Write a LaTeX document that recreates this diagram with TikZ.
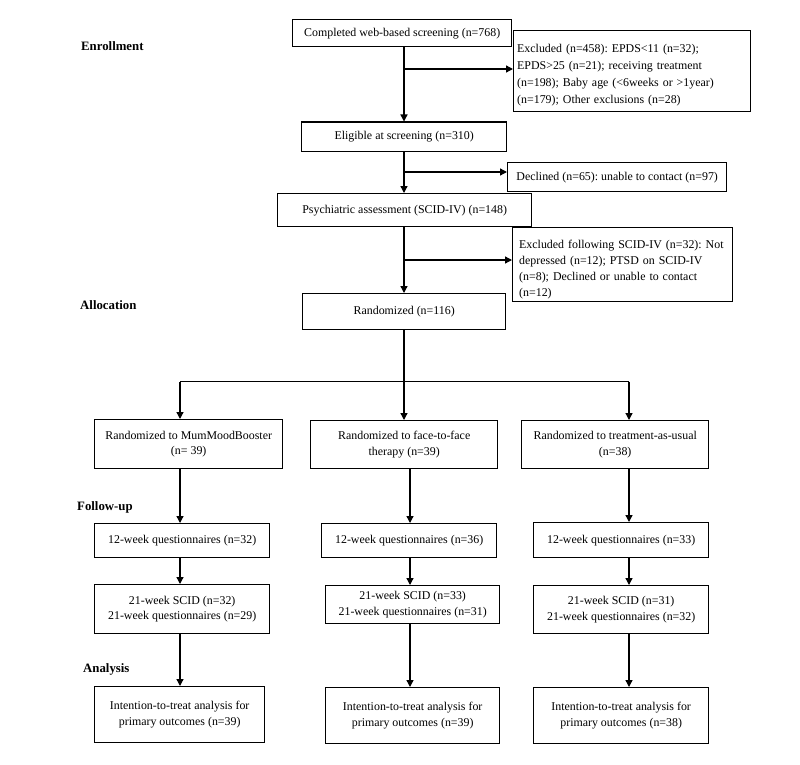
\documentclass[tikz,border=0pt]{standalone}
\usepackage{fontspec}
\setmainfont{Liberation Serif}
\usetikzlibrary{arrows.meta}
\frenchspacing
\begin{document}
\begin{tikzpicture}[x=1pt,y=-1pt,
  box/.style={draw, line width=1.4pt, inner sep=2pt, align=center, anchor=north west,
    font=\fontsize{11.9}{15.5}\selectfont},
  txt/.style={anchor=base west, inner sep=0pt, align=left,
    font=\fontsize{11.9}{16.7}\selectfont},
  phase/.style={anchor=base west, inner sep=0pt, font=\fontsize{12.8}{15}\selectfont\bfseries},
  conn/.style={line width=1.3pt},
  arr/.style={conn, -{Triangle[length=7pt,width=7pt]}}
]
\useasboundingbox (0,0) rectangle (800,765);

% phase labels
\node[phase] (lenr) at (81,51) {Enrollment};
\node[phase] (lall) at (80,309.5) {Allocation};
\node[phase] (lfol) at (77,510.5) {Follow-up};
\node[phase] (lana) at (83,672) {Analysis};

% column coordinates
\coordinate (m) at (404,0);
\coordinate (cA) at (180,0);
\coordinate (cB) at (410,0);
\coordinate (cC) at (629,0);

% top boxes
\node[box, minimum width=219pt, minimum height=27pt] (b1) at (292,19) {Completed web-based screening (n=768)};
\node[box, minimum width=237pt, minimum height=81pt] (ex1) at (513,30) {};
\node[txt, text width=230pt] (ex1t) at (517,53) {Excluded (n=458): EPDS<11 (n=32);\\EPDS>25 (n=21); receiving treatment\\(n=198); Baby age (<6weeks or >1year)\\(n=179); Other exclusions (n=28)};
\node[box, minimum width=205pt, minimum height=29.5pt] (b2) at (301,121.5) {Eligible at screening (n=310)};
\node[box, minimum width=219pt, minimum height=29pt] (dec) at (507,162) {Declined (n=65): unable to contact (n=97)};
\node[box, minimum width=254pt, minimum height=33pt] (b3) at (277,193) {Psychiatric assessment (SCID-IV) (n=148)};
\node[box, minimum width=220pt, minimum height=74pt] (ex2) at (512,227) {};
\begin{scope}
  \clip (512,227) rectangle (732,300);
  \node[txt, text width=212pt, font=\fontsize{11.9}{16.3}\selectfont] (ex2t) at (519,248) {Excluded following SCID-IV (n=32): Not\\depressed (n=12); PTSD on SCID-IV\\(n=8); Declined or unable to contact\\(n=12)};
\end{scope}
\node[box, minimum width=203pt, minimum height=36pt] (b4) at (302,293) {Randomized (n=116)};

% group boxes
\node[box, minimum width=188pt, minimum height=49pt] (gA) at (94,419) {Randomized to MumMoodBooster\\(n= 39)};
\node[box, minimum width=187pt, minimum height=48pt] (gB) at (310,420) {Randomized to face-to-face\\therapy (n=39)};
\node[box, minimum width=187pt, minimum height=48pt] (gC) at (521,420) {Randomized to treatment-as-usual\\(n=38)};

\node[box, minimum width=175pt, minimum height=34pt] (qA) at (94,523) {12-week questionnaires (n=32)};
\node[box, minimum width=175pt, minimum height=34pt] (qB) at (321,523) {12-week questionnaires (n=36)};
\node[box, minimum width=175pt, minimum height=35pt] (qC) at (533,522) {12-week questionnaires (n=33)};

\node[box, minimum width=175pt, minimum height=49pt] (sA) at (94,584) {21-week SCID (n=32)\\21-week questionnaires (n=29)};
\node[box, minimum width=174pt, minimum height=38pt] (sB) at (325,585) {21-week SCID (n=33)\\21-week questionnaires (n=31)};
\node[box, minimum width=175pt, minimum height=48pt] (sC) at (533,585) {21-week SCID (n=31)\\21-week questionnaires (n=32)};

\node[box, minimum width=170pt, minimum height=56pt] (iA) at (94,686) {Intention-to-treat analysis for\\primary outcomes (n=39)};
\node[box, minimum width=174pt, minimum height=56pt] (iB) at (325,687) {Intention-to-treat analysis for\\primary outcomes (n=39)};
\node[box, minimum width=175pt, minimum height=56pt] (iC) at (533,687) {Intention-to-treat analysis for\\primary outcomes (n=38)};

% junctions
\coordinate (j1) at (404,69);
\coordinate (j2) at (404,172);
\coordinate (j3) at (404,260);
\coordinate (sp) at (404,381.7);

% main flow
\draw[arr] (b1.south -| m) -- (b2.north -| m);
\draw[arr] (j1) -- (j1 -| ex1.west);
\draw[arr] (b2.south -| m) -- (b3.north -| m);
\draw[arr] (j2) -- (j2 -| dec.west);
\draw[arr] (b3.south -| m) -- (b4.north -| m);
\draw[arr] (j3) -- (j3 -| ex2.west);
\draw[conn] (b4.south -| m) -- (sp);
\draw[conn] (sp -| cA) -- (sp -| cC);
\draw[arr] (sp -| cA) -- (gA.north -| cA);
\draw[arr] (sp) -- (gB.north -| m);
\draw[arr] (sp -| cC) -- (gC.north -| cC);

% columns
\draw[arr] (gA.south -| cA) -- (qA.north -| cA);
\draw[arr] (qA.south -| cA) -- (sA.north -| cA);
\draw[arr] (sA.south -| cA) -- (iA.north -| cA);
\draw[arr] (gB.south -| cB) -- (qB.north -| cB);
\draw[arr] (qB.south -| cB) -- (sB.north -| cB);
\draw[arr] (sB.south -| cB) -- (iB.north -| cB);
\draw[arr] (gC.south -| cC) -- (qC.north -| cC);
\draw[arr] (qC.south -| cC) -- (sC.north -| cC);
\draw[arr] (sC.south -| cC) -- (iC.north -| cC);
\end{tikzpicture}
\end{document}
